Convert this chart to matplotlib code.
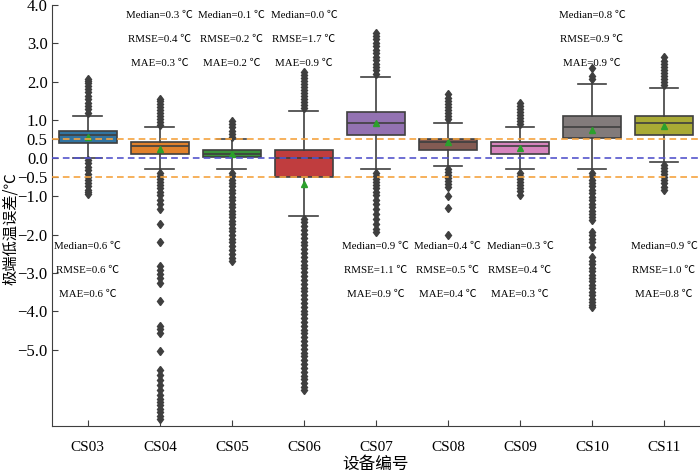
import matplotlib
matplotlib.use("Agg")
import matplotlib.pyplot as plt

# 设备编号
devices = ["CS03", "CS04", "CS05", "CS06", "CS07", "CS08", "CS09", "CS10", "CS11"]

# box stats (°C)
q1 = [0.40, 0.10, 0.02, -0.50, 0.61, 0.20, 0.10, 0.52, 0.61]
med = [0.60, 0.31, 0.11, 0.00, 0.92, 0.41, 0.32, 0.82, 0.92]
q3 = [0.72, 0.42, 0.22, 0.20, 1.21, 0.50, 0.41, 1.09, 1.10]
whis_lo = [0.00, -0.29, -0.29, -1.51, -0.29, -0.20, -0.29, -0.29, -0.10]
whis_hi = [1.11, 0.82, 0.51, 1.22, 2.13, 0.92, 0.82, 1.93, 1.82]
means = [0.56, 0.25, 0.105, -0.68, 0.92, 0.41, 0.27, 0.74, 0.83]

fliers = [
    # CS03
    [1.18, 1.27, 1.36, 1.45, 1.54, 1.63, 1.72, 1.80, 1.88, 1.95, 2.02, 2.06,
     -0.05, -0.14, -0.23, -0.32, -0.41, -0.50, -0.58, -0.66, -0.74, -0.82, -0.89, -0.94],
    # CS04
    [0.86, 0.94, 1.02, 1.10, 1.18, 1.26, 1.34, 1.42, 1.49, 1.55,
     -0.38, -0.46, -0.54, -0.62, -0.70, -0.78, -0.88, -0.96, -1.10, -1.20, -1.32,
     -1.71, -2.19, -2.81, -2.92, -3.03, -3.13, -3.25, -3.73, -4.39, -4.47, -4.56,
     -5.05, -5.53, -5.66, -5.79, -5.92, -6.05, -6.18, -6.29, -6.38, -6.46, -6.55,
     -6.64, -6.73, -6.82],
    # CS05
    [0.56, 0.64, 0.72, 0.80, 0.88, 0.96,
     -0.38, -0.47, -0.56, -0.65, -0.74, -0.83, -0.92, -1.01, -1.10, -1.19, -1.28,
     -1.37, -1.46, -1.55, -1.64, -1.73, -1.82, -1.91, -2.00, -2.10, -2.20, -2.30,
     -2.40, -2.50, -2.60, -2.68],
    # CS06
    [1.30, 1.38, 1.46, 1.54, 1.62, 1.70, 1.78, 1.86, 1.94, 2.02, 2.10, 2.18, 2.25,
     -1.58, -1.68, -1.78, -1.88, -1.98, -2.08, -2.18, -2.28, -2.38, -2.48, -2.58,
     -2.68, -2.78, -2.88, -2.98, -3.08, -3.18, -3.28, -3.38, -3.48, -3.58, -3.68,
     -3.78, -3.88, -3.98, -4.08, -4.18, -4.28, -4.38, -4.48, -4.58, -4.68, -4.78,
     -4.88, -4.98, -5.08, -5.18, -5.28, -5.38, -5.48, -5.58, -5.68, -5.78, -5.88,
     -5.97, -6.05],
    # CS07
    [2.20, 2.29, 2.38, 2.47, 2.56, 2.65, 2.74, 2.83, 2.92, 3.01, 3.10, 3.19, 3.27,
     -0.38, -0.46, -0.54, -0.62, -0.70, -0.78, -0.88, -0.96, -1.10, -1.20, -1.32,
     -1.45, -1.58, -1.71, -1.84, -1.93],
    # CS08
    [1.01, 1.09, 1.17, 1.25, 1.33, 1.41, 1.49, 1.57, 1.67,
     -0.29, -0.37, -0.45, -0.53, -0.61, -0.68, -0.75, -0.99, -1.29, -2.00],
    # CS09
    [0.88, 0.96, 1.04, 1.12, 1.20, 1.28, 1.37, 1.45,
     -0.38, -0.46, -0.54, -0.62, -0.70, -0.78, -0.87, -0.96],
    # CS10
    [2.06, 2.14, 2.36,
     -0.38, -0.47, -0.56, -0.65, -0.74, -0.83, -0.92, -1.01, -1.10, -1.19, -1.28,
     -1.37, -1.46, -1.55, -1.62, -1.93, -2.02, -2.11, -2.20, -2.32,
     -2.59, -2.68, -2.77, -2.86, -2.95, -3.04, -3.13, -3.22, -3.31, -3.40, -3.49,
     -3.58, -3.67, -3.76, -3.84, -3.90],
    # CS11
    [1.90, 1.98, 2.06, 2.14, 2.22, 2.30, 2.38, 2.46, 2.54, 2.64,
     -0.18, -0.26, -0.34, -0.42, -0.50, -0.58, -0.66, -0.75, -0.83],
]

colors = ["#3274a1", "#e1812c", "#3a923a", "#c03d3e", "#9372b2",
          "#845b53", "#d684bd", "#827b7b", "#a9aa35"]

# error statistics shown as text
median_txt = ["0.6", "0.3", "0.1", "0.0", "0.9", "0.4", "0.3", "0.8", "0.9"]
rmse_txt = ["0.6", "0.4", "0.2", "1.7", "1.1", "0.5", "0.4", "0.9", "1.0"]
mae_txt = ["0.6", "0.3", "0.2", "0.9", "0.9", "0.4", "0.3", "0.9", "0.8"]
txt_on_top = [False, True, True, True, False, False, False, True, False]

yticks = [4.0, 3.0, 2.0, 1.0, 0.5, 0.0, -0.5, -1.0, -2.0, -3.0, -4.0, -5.0]

serif = ["Liberation Serif", "Noto Sans CJK SC", "DejaVu Sans"]
cjk = ["Noto Sans CJK SC", "DejaVu Sans"]
line_col = "#3f3f3f"

fig = plt.figure(figsize=(7.0, 4.74), dpi=100)
ax = fig.add_axes([0.074, 0.101, 0.926, 0.8885])

ax.axhline(0.5, color="#f5a340", ls=(0, (4, 2.5)), lw=1.2, zorder=3)
ax.axhline(-0.5, color="#f5a340", ls=(0, (4, 2.5)), lw=1.2, zorder=3)
ax.axhline(0.0, color="#5555cc", ls=(0, (4, 2.5)), lw=1.2, zorder=3)

stats = []
for i in range(len(devices)):
    stats.append({
        "label": devices[i],
        "q1": q1[i], "med": med[i], "q3": q3[i],
        "whislo": whis_lo[i], "whishi": whis_hi[i],
        "mean": means[i], "fliers": fliers[i],
    })

bp = ax.bxp(stats, positions=range(len(devices)), widths=0.8, patch_artist=True,
            showmeans=True, capwidths=0.4,
            boxprops=dict(edgecolor=line_col, linewidth=1.2),
            medianprops=dict(color=line_col, linewidth=1.2),
            whiskerprops=dict(color=line_col, linewidth=1.2),
            capprops=dict(color=line_col, linewidth=1.2),
            meanprops=dict(marker="^", markerfacecolor="#2ca02c",
                           markeredgecolor="#2ca02c", markersize=5),
            flierprops=dict(marker="d", markerfacecolor=line_col,
                            markeredgecolor=line_col, markersize=4.3))
for patch, c in zip(bp["boxes"], colors):
    patch.set_facecolor(c)

for i in range(len(devices)):
    if txt_on_top[i]:
        ys = [3.72, 3.10, 2.48]
    else:
        ys = [-2.30, -2.93, -3.56]
    ax.text(i, ys[0], "Median=" + median_txt[i] + " ℃", ha="center", va="center",
            fontsize=7.8, family=serif)
    ax.text(i, ys[1], "RMSE=" + rmse_txt[i] + " ℃", ha="center", va="center",
            fontsize=7.8, family=serif)
    ax.text(i, ys[2], "MAE=" + mae_txt[i] + " ℃", ha="center", va="center",
            fontsize=7.8, family=serif)

ax.set_xlim(-0.5, 8.5)
ax.set_ylim(-7.0, 4.0)
ax.set_yticks(yticks)
ax.set_yticklabels([("%.1f" % v).replace("-", "\u2212") for v in yticks])
ax.set_xticks(range(len(devices)))
ax.set_xticklabels(devices)
for lab in ax.get_yticklabels():
    lab.set_family(serif)
    lab.set_fontsize(12)
for lab in ax.get_xticklabels():
    lab.set_family(serif)
    lab.set_fontsize(11)
ax.tick_params(direction="in", length=4, color=line_col)
ax.tick_params(axis="x", pad=11)
ax.tick_params(axis="y", pad=3)
ax.spines["top"].set_visible(False)
ax.spines["right"].set_visible(False)
ax.spines["left"].set_color(line_col)
ax.spines["bottom"].set_color(line_col)

ax.set_ylabel("极端低温误差/℃", family=cjk, fontsize=11)
ax.yaxis.set_label_coords(-0.05, 0.47)
ax.set_xlabel("设备编号", family=cjk, fontsize=12, labelpad=1)

fig.savefig("out.png", dpi=100)
